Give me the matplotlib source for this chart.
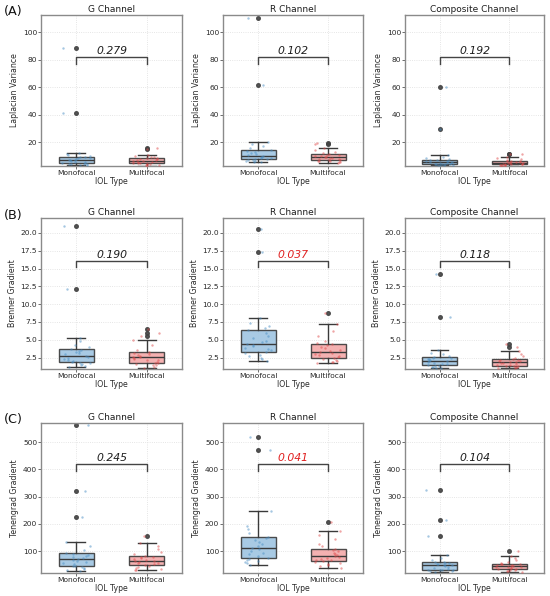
import matplotlib
matplotlib.use('Agg')
import matplotlib.pyplot as plt
import numpy as np

# ── DATA ─────────────────────────────────────────────
groups = ["Monofocal", "Multifocal"]
channels = ["G Channel", "R Channel", "Composite Channel"]
metrics = ["Laplacian Variance", "Brenner Gradient", "Tenengrad Gradient"]
row_tags = ["(A)", "(B)", "(C)"]

# Laplacian variance
lap_g_mono = [3.3, 3.6, 3.9, 4.1, 4.3, 4.5, 4.7, 5.2, 5.6, 6.0, 6.4, 6.8, 7.1, 7.5, 7.9, 8.3, 8.7, 9.1, 9.6, 10.2, 10.8, 11.5, 12.5, 41.6, 88.8]
lap_g_multi = [3.0, 3.4, 3.8, 4.1, 4.4, 4.6, 4.7, 5.0, 5.3, 5.6, 5.9, 6.2, 6.4, 6.8, 7.2, 7.6, 8.0, 8.3, 8.6, 9.1, 9.7, 10.4, 11.0, 14.8, 16.2]
lap_r_mono = [5.5, 5.9, 6.3, 6.7, 7.1, 7.4, 7.7, 8.1, 8.5, 8.9, 9.3, 9.7, 10.0, 10.8, 11.6, 12.4, 13.2, 13.9, 14.6, 15.8, 17.2, 18.9, 20.5, 61.7, 110.6]
lap_r_multi = [5.0, 5.4, 5.8, 6.1, 6.4, 6.7, 6.9, 7.3, 7.7, 8.1, 8.5, 8.9, 9.3, 9.6, 9.9, 10.3, 10.6, 11.0, 11.3, 12.0, 12.9, 14.2, 15.9, 18.5, 19.7]
lap_c_mono = [3.2, 3.4, 3.6, 3.8, 3.9, 4.1, 4.2, 4.4, 4.6, 4.8, 5.0, 5.3, 5.5, 5.8, 6.1, 6.4, 6.7, 6.9, 7.1, 7.6, 8.3, 9.2, 10.6, 29.7, 60.5]
lap_c_multi = [3.0, 3.2, 3.4, 3.6, 3.8, 3.9, 4.0, 4.2, 4.4, 4.6, 4.9, 5.1, 5.3, 5.5, 5.7, 5.9, 6.2, 6.4, 6.6, 7.0, 7.6, 8.3, 9.1, 11.2, 11.8]

# Brenner gradient
bre_g_mono = [1.2, 1.35, 1.5, 1.6, 1.7, 1.8, 1.9, 2.05, 2.2, 2.35, 2.5, 2.65, 2.78, 2.95, 3.1, 3.3, 3.45, 3.6, 3.76, 4.0, 4.3, 4.8, 5.3, 12.2, 21.0]
bre_g_multi = [1.1, 1.25, 1.4, 1.5, 1.6, 1.7, 1.8, 1.95, 2.1, 2.2, 2.3, 2.45, 2.55, 2.65, 2.75, 2.85, 2.95, 3.1, 3.25, 3.6, 4.2, 4.97, 5.6, 5.9, 6.5]
bre_r_mono = [2.03, 2.3, 2.5, 2.7, 2.9, 3.1, 3.25, 3.5, 3.7, 3.9, 4.1, 4.3, 4.41, 4.7, 4.9, 5.2, 5.6, 6.0, 6.33, 6.6, 7.0, 7.4, 8.0, 17.3, 20.5]
bre_r_multi = [1.71, 1.85, 1.95, 2.05, 2.2, 2.3, 2.4, 2.55, 2.7, 2.85, 3.0, 3.15, 3.29, 3.45, 3.6, 3.8, 4.0, 4.25, 4.46, 4.6, 4.9, 5.5, 6.3, 7.26, 8.7]
bre_c_mono = [1.0, 1.1, 1.18, 1.25, 1.32, 1.38, 1.43, 1.55, 1.65, 1.75, 1.85, 1.97, 2.08, 2.17, 2.25, 2.33, 2.42, 2.5, 2.59, 2.75, 2.95, 3.2, 3.53, 8.24, 14.26]
bre_c_multi = [1.0, 1.08, 1.15, 1.22, 1.28, 1.33, 1.37, 1.45, 1.53, 1.61, 1.69, 1.77, 1.85, 1.92, 1.99, 2.06, 2.13, 2.2, 2.27, 2.45, 2.7, 3.0, 3.39, 4.03, 4.41]

# Tenengrad gradient
ten_g_mono = [26.8, 30, 34, 37, 41, 44, 47.4, 52, 56, 60, 64, 69, 73.0, 76, 79, 83, 87, 90, 93.8, 105, 118, 135.2, 226.7, 320.7, 562]
ten_g_multi = [29.3, 32, 35, 38, 42, 45, 48.8, 52, 55, 58, 61, 63, 65.7, 68, 71, 74, 77, 80, 83, 90, 98, 108, 120, 131.6, 156]
ten_r_mono = [48.8, 55, 60, 64, 68, 72, 76.7, 83, 89, 95, 101, 107, 113.3, 119, 126, 133, 140, 147, 153.5, 165, 180, 192, 247.5, 469.5, 519.4]
ten_r_multi = [40, 44, 48, 52, 56, 60, 63.4, 66, 69, 72, 75, 79, 82.9, 87, 91, 95, 100, 105, 109.6, 118, 128, 145, 160, 174.3, 208.4]
ten_c_mono = [24, 26, 28, 29.5, 30.5, 31.6, 32.7, 36, 39, 42, 45, 47.5, 50, 52, 54, 56, 58, 60, 62, 68, 76, 85.4, 157.2, 213.4, 324.3]
ten_c_multi = [24, 26.5, 29, 31, 32.5, 34, 35.2, 37, 39, 40.5, 42, 43.7, 45.4, 47, 48.5, 50, 51.5, 53, 54.7, 58, 62, 67, 74, 83, 101.2]

p_values = [[0.279, 0.102, 0.192],
            [0.190, 0.037, 0.118],
            [0.245, 0.041, 0.104]]

data = [
    [(lap_g_mono, lap_g_multi), (lap_r_mono, lap_r_multi), (lap_c_mono, lap_c_multi)],
    [(bre_g_mono, bre_g_multi), (bre_r_mono, bre_r_multi), (bre_c_mono, bre_c_multi)],
    [(ten_g_mono, ten_g_multi), (ten_r_mono, ten_r_multi), (ten_c_mono, ten_c_multi)],
]

# ── STYLE ────────────────────────────────────────────
BOX_COLORS = ["#9fc5e1", "#f3a9a9"]
DOT_COLORS = ["#4a8fc4", "#e04a4a"]
EDGE = "#3a3a3a"
SPINE = "#8a8a8a"
TXT = "#2a2a2a"

ROW_YLIM = [(2.8, 112.6), (0.9, 22.1), (20, 570)]
ROW_TICKS = [[20, 40, 60, 80, 100],
             [2.5, 5.0, 7.5, 10.0, 12.5, 15.0, 17.5, 20.0],
             [100, 200, 300, 400, 500]]
ROW_FMT = ["{:.0f}", "{:.1f}", "{:.0f}"]
BRACKET = [(81.8, 77.0), (16.0, 15.2), (418.4, 394.0)]

# pixel layout (x left/right, y top/bottom) in a 550x596 canvas
COL_X = [(41, 182), (223, 363), (405, 544)]
ROW_Y = [(15, 166), (218, 369), (423, 573)]
W, H = 550, 596

fig = plt.figure(figsize=(W / 100, H / 100), dpi=100, facecolor="white")
rng = np.random.default_rng(7)

for r in range(3):
    for c in range(3):
        x0, x1 = COL_X[c]
        yt, yb = ROW_Y[r]
        aw, ah = x1 - x0, yb - yt
        ax = fig.add_axes([x0 / W, 1 - yb / H, aw / W, ah / H])
        vals = data[r][c]

        bp = ax.boxplot(
            vals, positions=[0, 1], widths=0.5, patch_artist=True,
            medianprops=dict(color=EDGE, linewidth=1.0),
            boxprops=dict(edgecolor=EDGE, linewidth=1.0),
            whiskerprops=dict(color=EDGE, linewidth=1.0),
            capprops=dict(color=EDGE, linewidth=1.0),
            flierprops=dict(marker='o', markersize=2.6, markerfacecolor="#444444",
                            markeredgecolor="#444444", alpha=0.9),
            zorder=2,
        )
        for patch, col in zip(bp['boxes'], BOX_COLORS):
            patch.set_facecolor(col)
            patch.set_alpha(0.9)

        # jittered strip points
        for i, v in enumerate(vals):
            jit = rng.uniform(-0.2, 0.2, len(v))
            ax.scatter(i + jit, v, s=3, color=DOT_COLORS[i], alpha=0.5,
                       linewidths=0, zorder=3)

        # significance bracket
        hy, dy = BRACKET[r]
        ax.plot([0, 0, 1, 1], [dy, hy, hy, dy], color="#444444", lw=1.0, zorder=4)
        p = p_values[r][c]
        ax.text(0.5, hy + (ROW_YLIM[r][1] - ROW_YLIM[r][0]) * 0.012,
                f"{p:.3f}", ha='center', va='bottom', fontsize=7.8, style='italic',
                color="#e02020" if p < 0.05 else "#1e1e1e", zorder=5)

        ax.set_xlim(-0.5, 1.5)
        ax.set_ylim(*ROW_YLIM[r])
        ax.set_xticks([0, 1])
        ax.set_xticklabels(groups, fontsize=5.4, color=TXT)
        ax.set_yticks(ROW_TICKS[r])
        ax.set_yticklabels([ROW_FMT[r].format(t) for t in ROW_TICKS[r]],
                           fontsize=5.4, color=TXT)
        ax.tick_params(length=2, width=0.6, color="#555555", pad=0.8)
        ax.set_xlabel("IOL Type", fontsize=5.6, color=TXT)
        ax.xaxis.set_label_coords(0.5, -11 / ah)
        ax.set_ylabel(metrics[r], fontsize=5.6, color=TXT, labelpad=2.5)
        ax.set_title(channels[c], fontsize=6.5, color="#1e1e1e", pad=2)
        ax.grid(True, color="#dddddd", linestyle=':', linewidth=0.6, zorder=0)
        ax.set_axisbelow(True)
        for s in ax.spines.values():
            s.set_color(SPINE)
            s.set_linewidth(1.0)

    fig.text(4 / W, 1 - (ROW_Y[r][0] - 3) / H, row_tags[r], fontsize=9.2,
             ha='left', va='center', color="#111111")

plt.savefig("out.png", dpi=100, facecolor="white")
plt.close()
